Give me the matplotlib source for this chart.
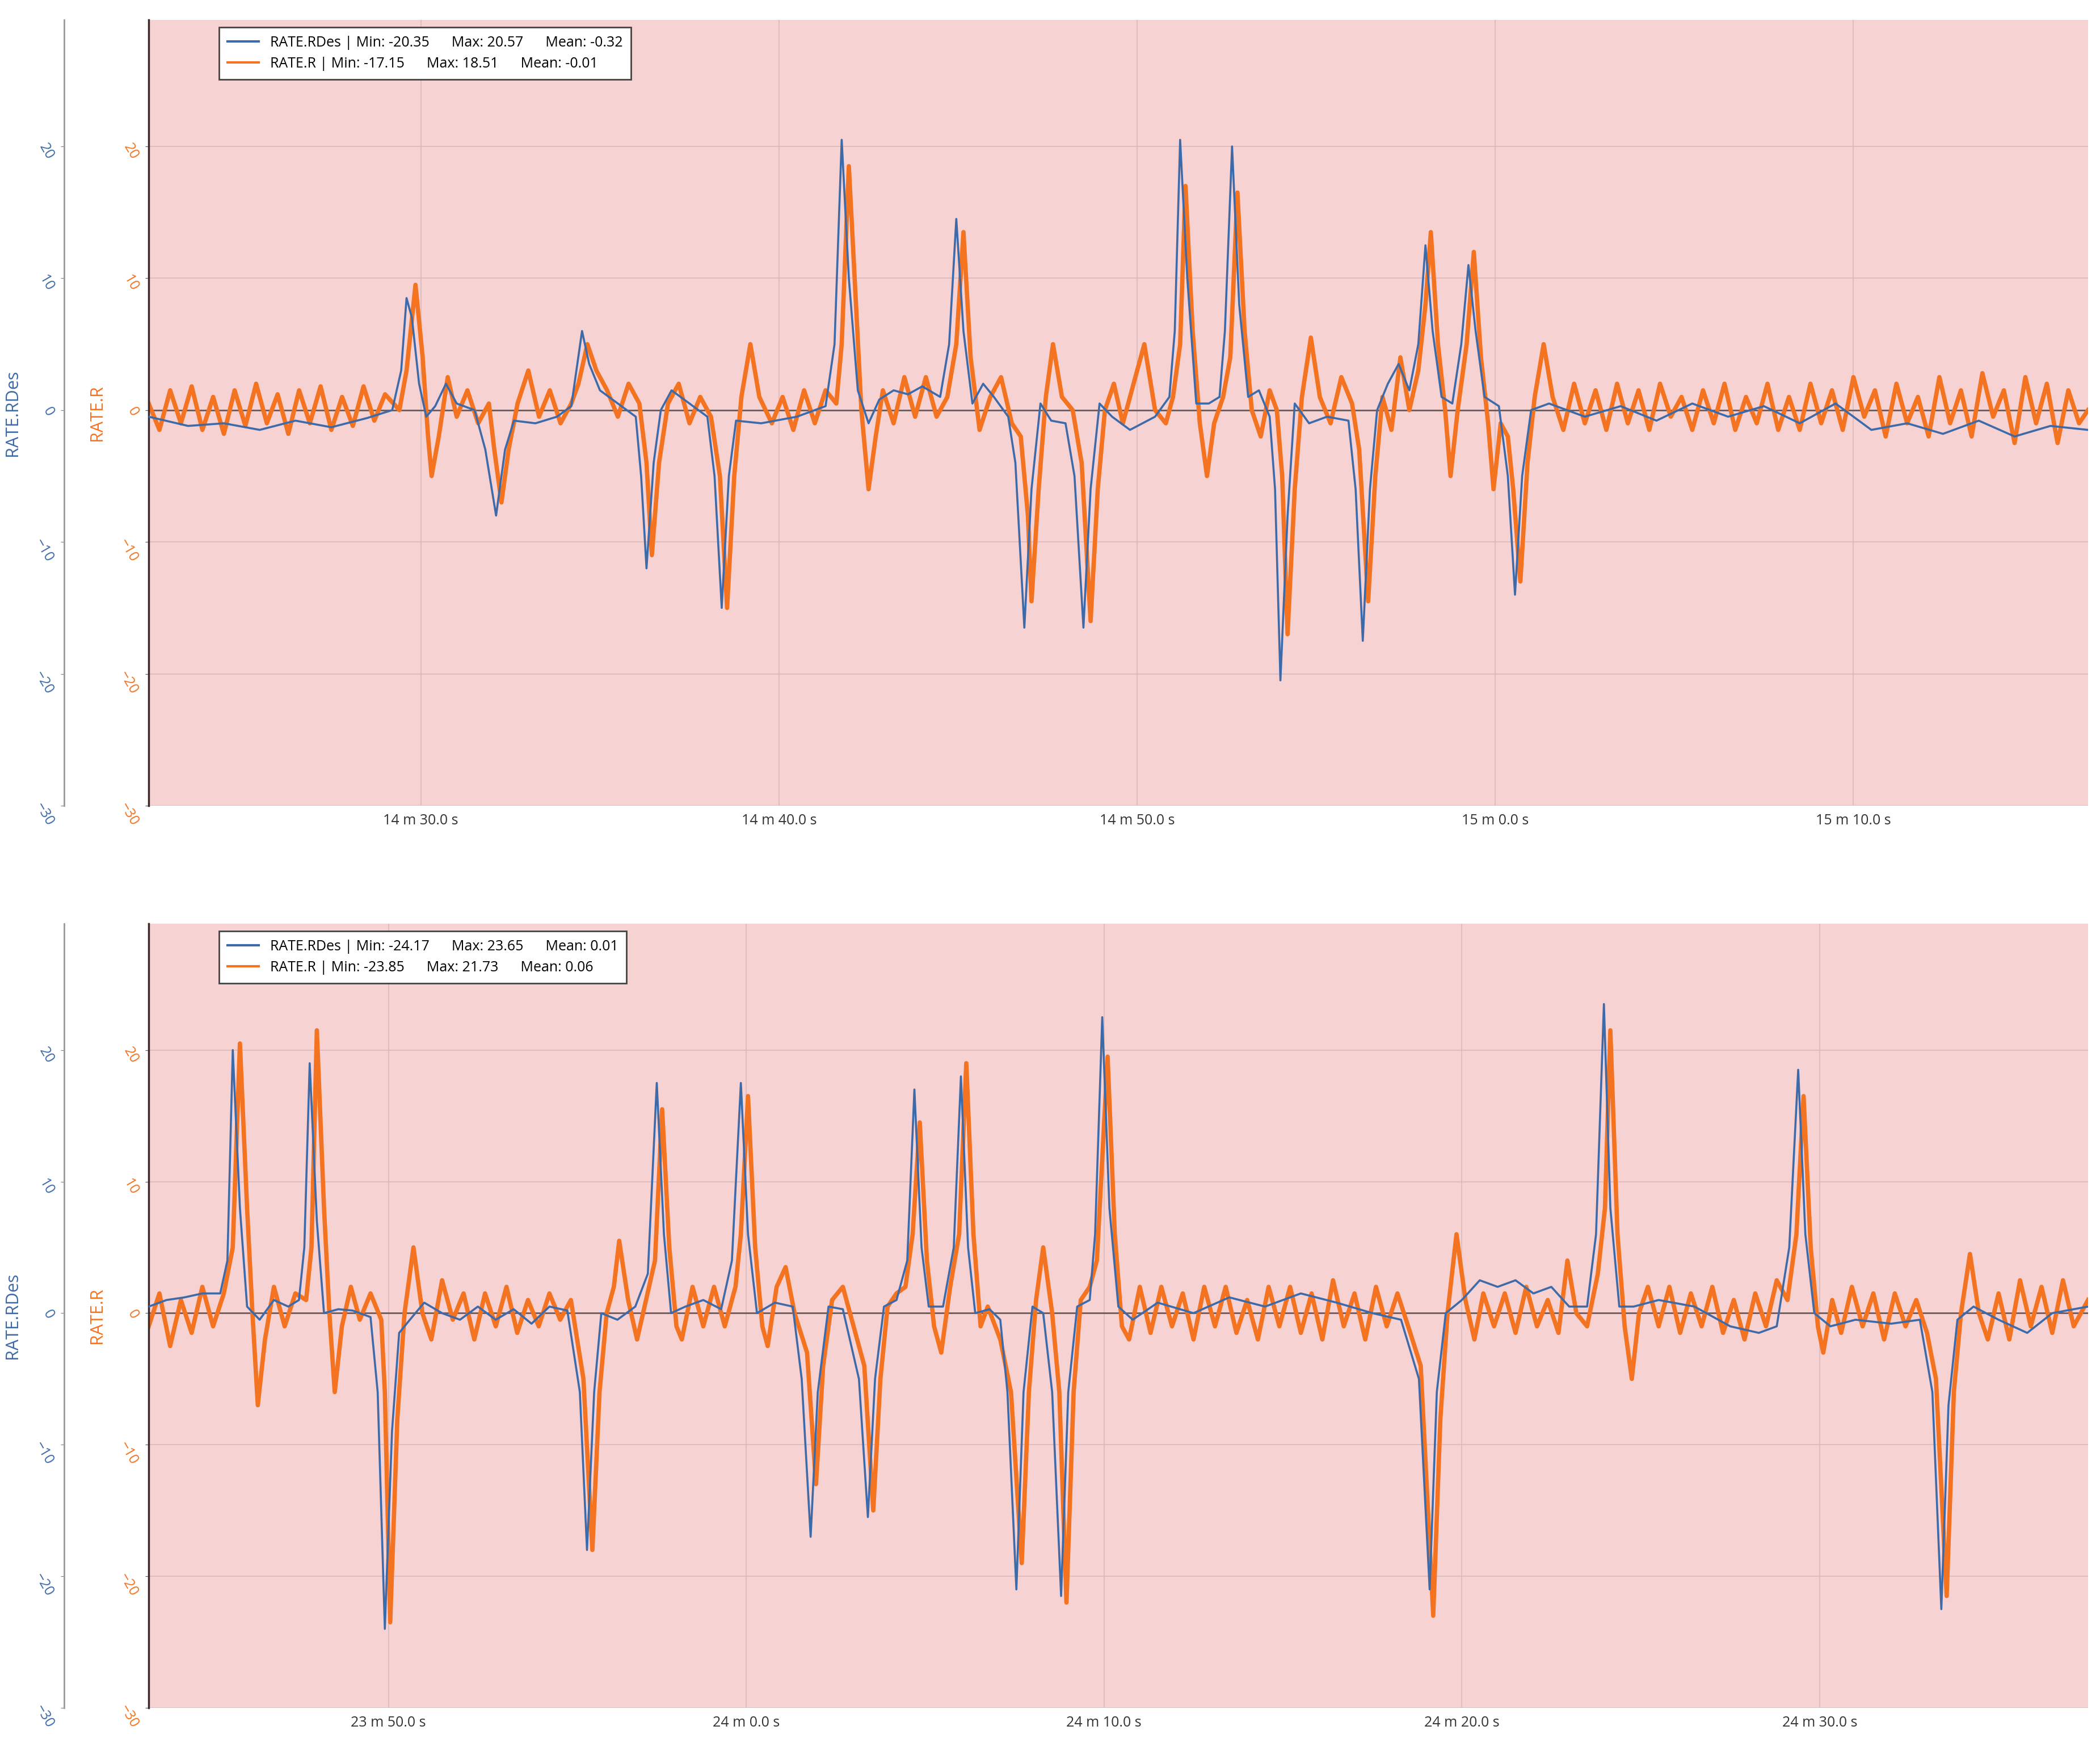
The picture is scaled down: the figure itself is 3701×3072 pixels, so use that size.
import matplotlib
matplotlib.use("Agg")
import matplotlib.pyplot as plt
from matplotlib.ticker import FuncFormatter, MultipleLocator

# ---------------- data (seconds after base minute) ----------------
top_base_min = 14
top_xlim = (22.4, 76.55)
top_blue_t = [22.4,23.5,24.5,25.5,26.5,27.5,28.5,29.2,29.45,29.6,29.75,29.95,30.15,30.4,30.7,31.0,31.5,31.8,32.1,32.35,32.6,33.2,33.8,34.2,34.5,34.7,35.0,35.5,36.0,36.15,36.3,36.5,36.7,37.0,37.5,38.0,38.2,38.4,38.6,38.8,39.5,40.5,41.3,41.55,41.75,41.95,42.2,42.5,42.8,43.2,43.6,44.0,44.5,44.75,44.95,45.15,45.4,45.7,46.0,46.4,46.6,46.85,47.05,47.3,47.6,48.0,48.25,48.5,48.7,48.95,49.3,49.8,50.5,50.9,51.05,51.2,51.4,51.65,52.0,52.3,52.45,52.65,52.85,53.1,53.4,53.7,53.85,54.0,54.2,54.4,54.8,55.3,55.9,56.1,56.3,56.5,56.7,57.0,57.3,57.6,57.85,58.05,58.25,58.5,58.8,59.05,59.25,59.45,59.7,60.1,60.35,60.55,60.75,61.0,61.5,62.5,63.5,64.5,65.5,66.5,67.5,68.5,69.5,70.5,71.5,72.5,73.5,74.5,75.5,76.55]
top_blue_v = [-0.5,-1.2,-1.0,-1.5,-0.8,-1.3,-0.6,0.0,3,8.5,7,2,-0.5,0.3,2,0.5,0.0,-3,-8,-3,-0.8,-1.0,-0.5,0.3,6,3.5,1.5,0.5,-0.5,-5,-12,-4,0,1.5,0.5,-0.5,-5,-15,-5,-0.8,-1.0,-0.5,0.3,5,20.5,10,1.5,-1,0.8,1.5,1.2,1.8,1,5,14.5,6,0.5,2,1,-0.5,-4,-16.5,-6,0.5,-0.8,-1.0,-5,-16.5,-6,0.5,-0.5,-1.5,-0.5,1,6,20.5,10,0.5,0.5,1,6,20,8,1,1.5,-0.5,-6,-20.5,-8,0.5,-1,-0.5,-0.8,-6,-17.5,-6,0,2,3.5,1.5,5,12.5,6,1,0.5,5,11,6,1,0.3,-5,-14,-5,0,0.5,-0.5,0.3,-0.8,0.5,-0.5,0.3,-1,0.5,-1.5,-1.0,-1.8,-0.8,-2.0,-1.2,-1.5]
top_orange_t = [22.4,22.7,23.0,23.3,23.6,23.9,24.2,24.5,24.8,25.1,25.4,25.7,26.0,26.3,26.6,26.9,27.2,27.5,27.8,28.1,28.4,28.7,29.0,29.4,29.6,29.85,30.05,30.2,30.3,30.5,30.75,31.0,31.3,31.6,31.9,32.05,32.25,32.45,32.7,33.0,33.3,33.6,33.9,34.2,34.4,34.65,34.9,35.2,35.5,35.8,36.1,36.3,36.45,36.65,36.9,37.2,37.5,37.8,38.1,38.35,38.55,38.75,38.95,39.2,39.45,39.8,40.1,40.4,40.7,41.0,41.3,41.6,41.75,41.95,42.15,42.3,42.5,42.7,42.9,43.2,43.5,43.8,44.1,44.4,44.7,44.95,45.15,45.35,45.6,45.9,46.2,46.5,46.75,46.95,47.05,47.25,47.45,47.65,47.9,48.2,48.45,48.7,48.9,49.1,49.35,49.6,49.9,50.2,50.5,50.8,51.0,51.2,51.35,51.55,51.75,51.95,52.15,52.4,52.6,52.8,53.0,53.2,53.45,53.7,53.9,54.05,54.2,54.4,54.6,54.85,55.1,55.4,55.7,56.0,56.2,56.45,56.65,56.85,57.1,57.35,57.6,57.85,58.05,58.2,58.4,58.6,58.75,58.95,59.2,59.4,59.6,59.8,59.95,60.15,60.35,60.5,60.7,60.9,61.1,61.35,61.6,61.9,62.2,62.5,62.8,63.1,63.4,63.7,64.0,64.3,64.6,64.9,65.2,65.5,65.8,66.1,66.4,66.7,67.0,67.3,67.6,67.9,68.2,68.5,68.8,69.1,69.4,69.7,70.0,70.3,70.6,70.9,71.2,71.5,71.8,72.1,72.4,72.7,73.0,73.3,73.6,73.9,74.2,74.5,74.8,75.1,75.4,75.7,76.0,76.3,76.55]
top_orange_v = [0.5,-1.5,1.5,-1,1.8,-1.5,1,-1.8,1.5,-1.2,2,-1,1.2,-1.8,1.5,-1,1.8,-1.5,1,-1.2,1.8,-0.8,1.2,0,3,9.5,4,-2,-5,-2,2.5,-0.5,1.5,-1,0.5,-3,-7,-3,0.5,3,-0.5,1.5,-1,0.5,2,5,3,1.5,-0.5,2,0.5,-4,-11,-4,0.5,2,-1,1,-0.5,-5,-15,-5,1,5,1,-1,1,-1.5,1.5,-1,1.5,0.5,5,18.5,8,0,-6,-2,1.5,-1,2.5,-0.5,2.5,-0.5,1,5,13.5,4,-1.5,1,2.5,-1,-2,-8,-14.5,-6,1,5,1,0,-4,-16,-6,0,2,-1,2,5,0,-1,1,5,17,6,-1,-5,-1,1,4,16.5,6,0,-2,1.5,0,-5,-17,-6,1,5.5,1,-1,2.5,0.5,-3,-14.5,-5,1,-1.5,4,0,3,8,13.5,5,0,-5,0,5,12,4,-1,-6,-1,-2,-6,-13,-4,1,5,1,-1.5,2,-1,1.5,-1.5,2,-1,1.5,-1.5,2,-0.5,1,-1.5,1.5,-1,2,-1.5,1,-1,2,-1.5,1,-1.5,2,-1,1.5,-1.5,2.5,-0.5,1.5,-2,2,-1,1,-2,2.5,-1,1.5,-2,2.8,-0.5,1.5,-2.5,2.5,-1,2,-2.5,1.5,-1,0]
top_legend = ["RATE.RDes | Min: -20.35      Max: 20.57      Mean: -0.32",
              "RATE.R | Min: -17.15      Max: 18.51      Mean: -0.01"]

bot_base_min = 23
bot_xlim = (43.3, 97.5)
bot_blue_t = [43.3,43.8,44.3,44.8,45.3,45.5,45.65,45.85,46.05,46.4,46.8,47.2,47.5,47.65,47.8,48.0,48.2,48.6,49.0,49.5,49.7,49.9,50.1,50.3,50.6,51.0,51.5,52.0,52.5,53.0,53.5,54.0,54.5,55.0,55.35,55.55,55.75,55.95,56.4,56.9,57.25,57.5,57.7,57.9,58.3,58.8,59.3,59.6,59.85,60.05,60.3,60.8,61.3,61.55,61.8,62.0,62.3,62.7,63.15,63.4,63.6,63.85,64.2,64.5,64.7,64.9,65.1,65.5,65.8,66.0,66.2,66.4,66.8,67.1,67.3,67.55,67.75,68.0,68.3,68.55,68.8,69.0,69.25,69.6,69.75,69.95,70.15,70.4,70.8,71.5,72.5,73.5,74.5,75.5,76.5,77.5,78.3,78.8,79.1,79.3,79.55,80.0,80.5,81.0,81.5,82.0,82.5,83.0,83.5,83.75,83.97,84.15,84.4,84.8,85.5,86.5,87.5,88.3,88.8,89.15,89.4,89.6,89.85,90.3,91.0,92.0,92.8,93.15,93.4,93.6,93.85,94.3,95.0,95.8,96.5,97.5]
bot_blue_v = [0.5,1,1.2,1.5,1.5,4,20,8,0.5,-0.5,1,0.5,1,5,19,7,0,0.3,0.2,-0.3,-6,-24,-9,-1.5,-0.5,0.8,0,-0.5,0.5,-0.5,0.3,-0.8,0.5,0.2,-6,-18,-6,0,-0.5,0.5,3,17.5,6,0,0.5,1,0.3,4,17.5,6,0,0.8,0.5,-5,-17,-6,0.5,0.3,-5,-15.5,-5,0.5,1.0,4,17,5,0.5,0.5,5,18,5,0,0.3,-0.5,-6,-21,-6,0.5,0,-6,-21.5,-6,0.5,1,6,22.5,8,0.5,-0.5,0.8,0,1.2,0.5,1.5,0.8,0,-0.5,-5,-21,-6,0,1,2.5,2,2.5,1.5,2,0.5,0.5,6,23.5,8,0.5,0.5,1.0,0.5,-1,-1.5,-1,5,18.5,6,0,-1,-0.5,-0.8,-0.5,-6,-22.5,-7,-0.5,0.5,-0.5,-1.5,0,0.5]
bot_orange_t = [43.3,43.6,43.9,44.2,44.5,44.8,45.1,45.4,45.65,45.85,46.05,46.2,46.35,46.55,46.8,47.1,47.4,47.7,47.85,48.0,48.2,48.35,48.5,48.7,48.95,49.2,49.5,49.8,49.9,50.05,50.25,50.45,50.7,50.95,51.2,51.5,51.8,52.1,52.4,52.7,53.0,53.3,53.6,53.9,54.2,54.5,54.8,55.1,55.45,55.7,55.9,56.1,56.3,56.45,56.7,56.95,57.2,57.45,57.65,57.85,58.05,58.2,58.5,58.8,59.1,59.4,59.7,59.85,60.05,60.25,60.45,60.6,60.85,61.1,61.35,61.7,61.95,62.15,62.4,62.7,62.95,63.3,63.55,63.75,63.95,64.2,64.45,64.65,64.85,65.05,65.25,65.45,65.7,65.95,66.15,66.35,66.55,66.75,67.1,67.4,67.7,67.9,68.1,68.3,68.55,68.75,68.95,69.15,69.35,69.6,69.8,70.1,70.3,70.5,70.7,71.0,71.3,71.6,71.9,72.2,72.5,72.8,73.1,73.4,73.7,74.0,74.3,74.6,74.9,75.2,75.5,75.8,76.1,76.4,76.7,77.0,77.3,77.6,77.9,78.2,78.5,78.85,79.2,79.4,79.6,79.85,80.1,80.35,80.6,80.9,81.2,81.5,81.8,82.1,82.4,82.7,82.95,83.2,83.5,83.8,84.0,84.15,84.35,84.55,84.75,84.95,85.2,85.5,85.8,86.1,86.4,86.7,87.0,87.3,87.6,87.9,88.2,88.5,88.8,89.1,89.35,89.55,89.75,89.95,90.1,90.35,90.6,90.9,91.2,91.5,91.8,92.1,92.4,92.7,93.0,93.25,93.55,93.75,93.95,94.2,94.45,94.7,95.0,95.3,95.6,95.9,96.2,96.5,96.8,97.1,97.5]
bot_orange_v = [-1,1.5,-2.5,1,-1.5,2,-1,1.5,5,20.5,8,0,-7,-2,2,-1,1.5,1,5,21.5,8,0,-6,-1,2,-0.5,1.5,-0.5,-6,-23.5,-8,0,5,0,-2,2.5,-0.5,1.5,-2,1.5,-1,2,-1.5,1,-1,1.5,-0.5,1,-5,-18,-6,0,2,5.5,1,-2,1,4,15.5,5,-1,-2,2,-1,2,-1,2,6,16.5,5,-1,-2.5,2,3.5,0,-3,-13,-4,1,2,-0.5,-4,-15,-5,0.5,1.5,2,6,14.5,4,-1,-3,2,6,19,6,-1,0.5,-2,-6,-19,-6,1,5,0,-6,-22,-6,1,2,4,19.5,6,-1,-2,2,-1.5,2,-1,1.5,-2,2,-1,2,-1.5,1,-2,2,-1,2,-1.5,1.5,-2,2.5,-1,1.5,-2,2,-1,1.5,-1,-4,-23,-8,0,6,1,-2,1.5,-1,1.5,-1.5,2,-1,1,-1.5,4,0,-1,3,8,21.5,6,-1,-5,0,2,-1,2,-1.5,1.5,-1,2,-1.5,1,-2,1.5,-1,2.5,1,6,16.5,5,-1,-3,1,-1.5,2,-1,1.5,-2,1.5,-1,1,-1.5,-5,-21.5,-6,0,4.5,0,-2,1.5,-2,2.5,-1,2,-1.5,2.5,-1,1]
bot_legend = ["RATE.RDes | Min: -24.17      Max: 23.65      Mean: 0.01",
              "RATE.R | Min: -23.85      Max: 21.73      Mean: 0.06"]

ylim = (-30, 29.6)
yticks = [-30, -20, -10, 0, 10, 20]

# ---------------- style ----------------
BLUE = "#3d6aa8"
ORANGE = "#f47321"
BG = "#f7d2d3"
plt.rcParams['font.family'] = ['Open Sans', 'DejaVu Sans']

fig = plt.figure(figsize=(37.01, 30.72), dpi=100)
fig.patch.set_facecolor("white")


def panel(rect, base_min, xlim, bt, bv, ot, ov, legend):
    ax = fig.add_axes(rect)
    ax.set_facecolor(BG)
    ax.set_xlim(*xlim)
    ax.set_ylim(*ylim)
    ax.set_yticks(yticks)
    ax.xaxis.set_major_locator(MultipleLocator(10))
    ax.xaxis.set_major_formatter(FuncFormatter(
        lambda x, p: f"{base_min + int(x // 60)} m {x % 60:.1f} s"))
    ax.grid(True, color="#d9b9bb", linewidth=1.2)
    ax.set_axisbelow(True)
    ax.axhline(0, color="#6b5a5c", linewidth=2, zorder=1)
    lb, = ax.plot(bt, bv, color=BLUE, linewidth=2.6, zorder=3,
                  label=legend[0])
    lo, = ax.plot(ot, ov, color=ORANGE, linewidth=5.5, zorder=2,
                  label=legend[1], solid_joinstyle="round")
    for s in ["top", "right", "bottom"]:
        ax.spines[s].set_visible(False)
    ax.spines["left"].set_color("#3a2a2c")
    ax.spines["left"].set_linewidth(2.5)
    ax.tick_params(axis="x", length=0, labelsize=18, colors="#333333", pad=10)
    ax.tick_params(axis="y", length=4, labelsize=18, labelcolor=ORANGE,
                   color="#555555", pad=6)
    for lab in ax.get_yticklabels():
        lab.set_rotation(-60)
    ax.set_ylabel("RATE.R", color=ORANGE, fontsize=22, labelpad=14)

    ax2 = ax.twinx()
    ax2.set_ylim(*ylim)
    ax2.set_yticks(yticks)
    ax2.yaxis.set_ticks_position("left")
    ax2.yaxis.set_label_position("left")
    ax2.spines["left"].set_position(("axes", -0.0436))
    ax2.spines["left"].set_color("#999999")
    ax2.spines["left"].set_linewidth(2)
    for s in ["top", "right", "bottom"]:
        ax2.spines[s].set_visible(False)
    ax2.tick_params(axis="y", length=4, labelsize=18, labelcolor=BLUE,
                    color="#777777", pad=6)
    for lab in ax2.get_yticklabels():
        lab.set_rotation(-60)
    ax2.set_ylabel("RATE.RDes", color=BLUE, fontsize=22, labelpad=14)

    leg = ax.legend(handles=[lb, lo], loc="upper left",
                    bbox_to_anchor=(0.0325, 1.0), fontsize=18,
                    fancybox=False, framealpha=1, edgecolor="#444444",
                    handlelength=2.2, borderpad=0.6, labelspacing=0.5)
    leg.get_frame().set_linewidth(2)
    for line in leg.get_lines():
        line.set_linewidth(3)
    leg.set_zorder(10)
    return ax


panel([0.0708, 0.5378, 0.9235, 0.4508], top_base_min, top_xlim,
      top_blue_t, top_blue_v, top_orange_t, top_orange_v, top_legend)
panel([0.0708, 0.0202, 0.9235, 0.4498], bot_base_min, bot_xlim,
      bot_blue_t, bot_blue_v, bot_orange_t, bot_orange_v, bot_legend)

fig.savefig("out.png", dpi=100)
